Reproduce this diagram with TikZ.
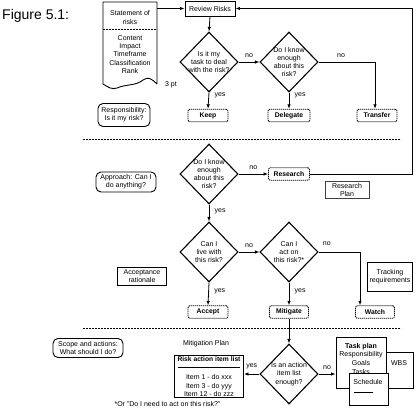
\documentclass[tikz,border=0pt]{standalone}
\usepackage{fontspec}
\setmainfont{Liberation Sans}
\usetikzlibrary{shapes.geometric,arrows.meta}
\tikzset{
  txt/.style={font=\fontsize{7}{8.3}\selectfont, align=center},
  box/.style={draw, line width=0.9pt, fill=white, txt, inner sep=1pt},
  act/.style={draw, dash pattern=on 1.2pt off 0.8pt, line width=0.9pt, rounded corners=2pt,
              font=\fontsize{6.8}{8}\selectfont\bfseries, minimum width=40pt, minimum height=12.5pt, inner sep=1pt},
  rbox/.style={draw, rounded corners=5pt, line width=0.9pt, txt, inner sep=1pt},
  dia/.style={diamond, draw, line width=1.1pt, minimum width=58pt, minimum height=60pt, inner sep=0pt},
  dtxt/.style={txt},
  arr/.style={-{Latex[length=4.5pt,width=3.5pt]}, line width=0.8pt},
  sep/.style={dash pattern=on 2pt off 1pt, line width=0.6pt},
  lab/.style={txt}
}
\begin{document}
\begin{tikzpicture}[x=1pt,y=-1pt]
\useasboundingbox (0,0) rectangle (419,410);
% title
\node[anchor=west, font=\fontsize{14}{16}\selectfont, inner sep=0pt] (title) at (2,16) {Figure 5.1:};
% document shape
\draw[line width=0.9pt] (157,84) -- (157,2) -- (103,2) -- (103,84)
   .. controls (108,87) and (112,90) .. (117,88)
   .. controls (126,84) and (136,86) .. (143,80)
   .. controls (148,76) and (152,79) .. (157,84);
\draw[sep] (103,29) -- (157,29);
\node[txt] (stmt) at (130,17.5) {Statement of\\risks};
\node[txt] (attrs) at (130,54.5) {Content\\Impact\\Timeframe\\Classification\\Rank};
\coordinate (docr) at (157,8.5);
\node[txt] (pt) at (171,85) {3 pt};
% review risks
\node[box, minimum width=50pt, minimum height=15pt] (review) at (210,8.5) {Review Risks};
\draw[arr] (docr) -- (review.west);
% row 1
\node[dia, label={[dtxt]center:Is it my\\task to deal\\with the risk?}] (d1) at (209,62) {};
\node[dia, label={[dtxt]center:Do I know\\enough\\about this\\risk?}] (d2) at (289,62) {};
\node[act] (keep) at (208,115.5) {Keep};
\node[act, minimum width=42pt] (deleg) at (289,115.5) {Delegate};
\node[act] (transfer) at (377,115.5) {Transfer};
\draw[arr] (review.south) -- (d1.north);
\draw[arr] (d1.east) -- node[lab, above=1pt] {no} (d2.west);
\draw[arr] (d1.south) -- node[lab, pos=0.2, right=2pt] {yes} (keep.north);
\draw[arr] (d2.south) -- node[lab, pos=0.2, right=2pt] {yes} (deleg.north);
\draw[arr] (d2.east) -| node[lab, pos=0.2, above=1pt] {no} ([xshift=-2pt]transfer.north);
\node[rbox, minimum width=52pt, minimum height=23pt] (resp) at (124,115) {Responsibility:\\Is it my risk?};
% separator 1
\coordinate (s1a) at (83,139); \coordinate (s1b) at (401,139);
\draw[sep] (s1a) -- (s1b);
% row 2
\node[dia, label={[dtxt]center:Do I know\\enough\\about this\\risk?}] (d3) at (209,174) {};
\node[act, minimum width=41pt] (res) at (289,174) {Research};
\draw[arr] (d3.east) -- node[lab, above=1pt] {no} (res.west);
\coordinate (fb) at (412,174);
\draw[arr] (res.east) -- (fb) |- (review.east);
\node[box, minimum width=44pt, minimum height=17pt, draw=black!75] (rplan) at (347,190) {Research\\Plan};
\node[rbox, minimum width=60pt, minimum height=20pt] (appr) at (126,182) {Approach: Can I\\do anything?};
% row 3
\node[dia, label={[dtxt]center:Can I\\live with\\this risk?}] (d4) at (209,252) {};
\node[dia, label={[dtxt]center:Can I\\act on\\this risk?*}] (d5) at (289,252) {};
\draw[arr] (d3.south) -- node[lab, pos=0.4, right=2pt] {yes} (d4.north);
\node[act] (accept) at (208,312) {Accept};
\node[act, minimum width=39pt] (mit) at (289,312) {Mitigate};
\node[act, minimum width=39pt] (watch) at (375,312) {Watch};
\draw[arr] (d4.east) -- node[lab, above=1pt] {no} (d5.west);
\draw[arr] (d4.south) -- node[lab, pos=0.4, right=2pt] {yes} (accept.north);
\draw[arr] (d5.south) -- node[lab, pos=0.4, right=2pt] {yes} (mit.north);
\draw[arr] (d5.east) -| node[lab, pos=0.1, above=3pt] {no} ([xshift=-15pt]watch.north);
\node[box, minimum width=49pt, minimum height=18pt] (accr) at (142,276) {Acceptance\\rationale};
\node[box, minimum width=45pt, minimum height=29pt] (track) at (390,277) {Tracking\\requirements};
% separator 2
\coordinate (s2a) at (83,328); \coordinate (s2b) at (401,328);
\draw[sep] (s2a) -- (s2b);
% row 4
\node[rbox, minimum width=70pt, minimum height=19pt] (scope) at (88,348) {Scope and actions:\\What should I do?};
\node[txt] (mplan) at (206,344) {Mitigation Plan};
\node[dia, label={[dtxt]center:Is an action\\item list\\enough?}] (d6) at (289,374) {};
\draw[arr] (mit.south) -- (d6.north);
% risk action item list
\node[box, minimum width=69pt, minimum height=42pt] (ril) at (209,376) {};
\node[txt, font=\fontsize{6.7}{8}\selectfont\bfseries] (rilt) at (209,359.5) {Risk action item list};
\coordinate (ula) at (178,367.5); \coordinate (ulb) at (240,367.5);
\draw[line width=0.9pt] (ula) -- (ulb);
\node[txt] (rili) at (209,385.5) {Item 1 - do xxx\\Item 3 - do yyy\\Item 12 - do zzz};
\draw[arr] (d6.west) -- node[lab, above=1pt] {yes} (d6.west -| ril.east);
% task plan group
\node[box, minimum width=36pt, minimum height=36pt] (wbs) at (395,370) {};
\node[txt] (wbst) at (399,363) {WBS};
\node[box, minimum width=50pt, minimum height=51pt] (tp) at (361,362.5) {};
\node[txt, anchor=north, font=\fontsize{7}{8.7}\selectfont] (tpt) at (361,339.5) {\textbf{Task plan}\\Responsibility\\Goals\\Tasks};
\node[box, minimum width=39pt, minimum height=32pt] (sched) at (368.5,389) {};
\node[txt] (schedt) at (368,382) {Schedule};
\coordinate (sla) at (354,392.5); \coordinate (slb) at (373,392.5);
\draw[line width=0.9pt] (sla) -- (slb);
\draw[arr] (d6.east) -- node[lab, above=1pt] {no} (d6.east -| tp.west);
% footnote
\node[txt, anchor=west] (foot) at (111,404) {*Or "Do I need to act on this risk?"};
\end{tikzpicture}
\end{document}
